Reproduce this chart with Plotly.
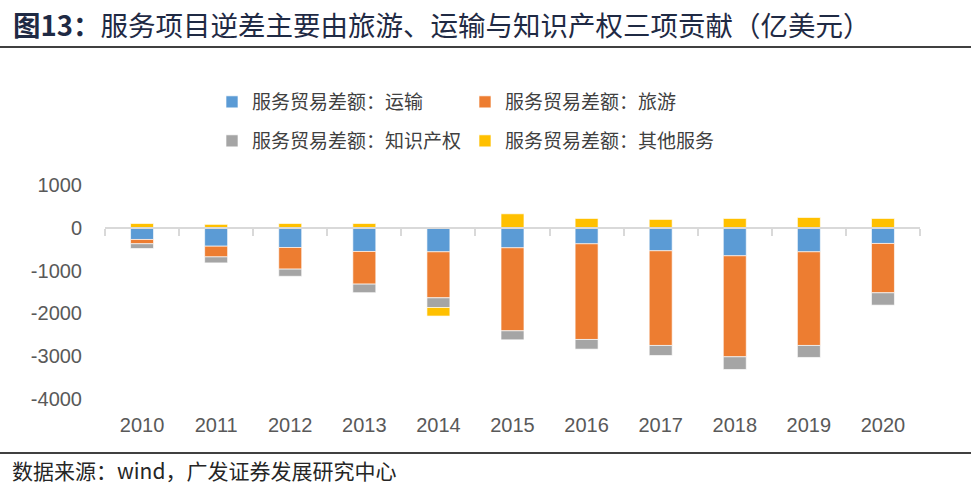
import numpy as np
import plotly.graph_objects as go

years = ["2010", "2011", "2012", "2013", "2014", "2015", "2016", "2017", "2018", "2019", "2020"]
transport = [-273, -430, -460, -553, -561, -467, -374, -537, -654, -561, -366]
travel = [-100, -250, -506, -763, -1075, -1940, -2235, -2212, -2360, -2188, -1153]
ip = [-110, -140, -167, -200, -226, -210, -226, -234, -296, -280, -288]
other = [100, 80, 100, 100, -200, 327, 218, 195, 218, 241, 218]

names = ["服务贸易差额：运输", "服务贸易差额：旅游", "服务贸易差额：知识产权", "服务贸易差额：其他服务"]
colors = ["#5B9BD5", "#ED7D31", "#A5A5A5", "#FFC000"]
series = [transport, travel, ip, other]
legends = ["legend", "legend", "legend2", "legend2"]

yticks = [1000, 0, -1000, -2000, -3000, -4000]
yticklabels = ["1000", "0", "-1000", "-2000", "-3000", "-4000"]

CJK = "Noto Sans CJK SC"
NUM = "Liberation Sans"

W, H = 971, 496
L, R, T, B = 105, 51, 185, 97
PW, PH = W - L - R, H - T - B


def px_x(x):
    return (x - L) / PW


def px_y(y):
    return (H - B - y) / PH


fig = go.Figure()
for nm, col, vals, lg in zip(names, colors, series, legends):
    fig.add_trace(go.Bar(
        x=years, y=vals, name=nm, legend=lg,
        marker=dict(color=col, line=dict(color="rgba(255,255,255,0.8)", width=0.8)),
    ))

n = len(years)
# invisible helper so the zero-line category axis is rendered
fig.add_trace(go.Scatter(x=list(range(n)), y=[0] * n, xaxis="x2", mode="markers",
                         marker=dict(opacity=0), showlegend=False, hoverinfo="skip"))

leg_common = dict(orientation="h", x=px_x(212), xanchor="left", yanchor="middle",
                  font=dict(family=CJK, size=19, color="#404040"),
                  entrywidth=208, entrywidthmode="pixels", itemwidth=30,
                  bgcolor="rgba(0,0,0,0)")

fig.update_layout(
    width=W, height=H,
    barmode="relative", bargap=0.69,
    plot_bgcolor="white", paper_bgcolor="white",
    margin=dict(l=L, r=R, t=T, b=B, autoexpand=False),
    showlegend=True,
    legend=dict(y=px_y(102), **leg_common),
    legend2=dict(y=px_y(141), **leg_common),
    xaxis=dict(type="category", showline=False, showgrid=False, ticks="",
               tickfont=dict(family=NUM, size=20, color="#595959"),
               range=[-0.5, n - 0.5], ticklabelstandoff=12),
    xaxis2=dict(overlaying="x", anchor="free", position=0.8, type="linear",
                range=[-0.5, n - 0.5], showgrid=False, zeroline=False,
                showline=True, linecolor="#D9D9D9", linewidth=2,
                ticks="outside", ticklen=7, tickwidth=2, tickcolor="#D9D9D9",
                tickvals=list(np.arange(n + 1) - 0.5), showticklabels=False),
    yaxis=dict(range=[-4000, 1000], tickvals=yticks, ticktext=yticklabels, showgrid=False,
               zeroline=False, showline=False, ticks="",
               tickfont=dict(family=NUM, size=20, color="#595959"),
               ticklabelstandoff=22),
)

fig.add_annotation(xref="paper", yref="paper", x=px_x(11), y=px_y(24),
                   xanchor="left", yanchor="middle", showarrow=False,
                   text="<b>图13：</b>服务项目逆差主要由旅游、运输与知识产权三项贡献（亿美元）",
                   font=dict(family=CJK, size=27.5, color="#1F2A44"))
fig.add_annotation(xref="paper", yref="paper", x=px_x(10), y=px_y(470),
                   xanchor="left", yanchor="middle", showarrow=False,
                   text="数据来源：wind，广发证券发展研究中心",
                   font=dict(family=CJK, size=21, color="#262626"))
fig.add_shape(type="line", xref="paper", yref="paper", x0=px_x(0), x1=px_x(W),
              y0=px_y(47), y1=px_y(47), line=dict(color="black", width=1.5))
fig.add_shape(type="line", xref="paper", yref="paper", x0=px_x(0), x1=px_x(W),
              y0=px_y(453), y1=px_y(453), line=dict(color="black", width=1.5))

fig.write_html("out.html", config={"displayModeBar": False},
               post_script="document.body.style.margin='0';")
